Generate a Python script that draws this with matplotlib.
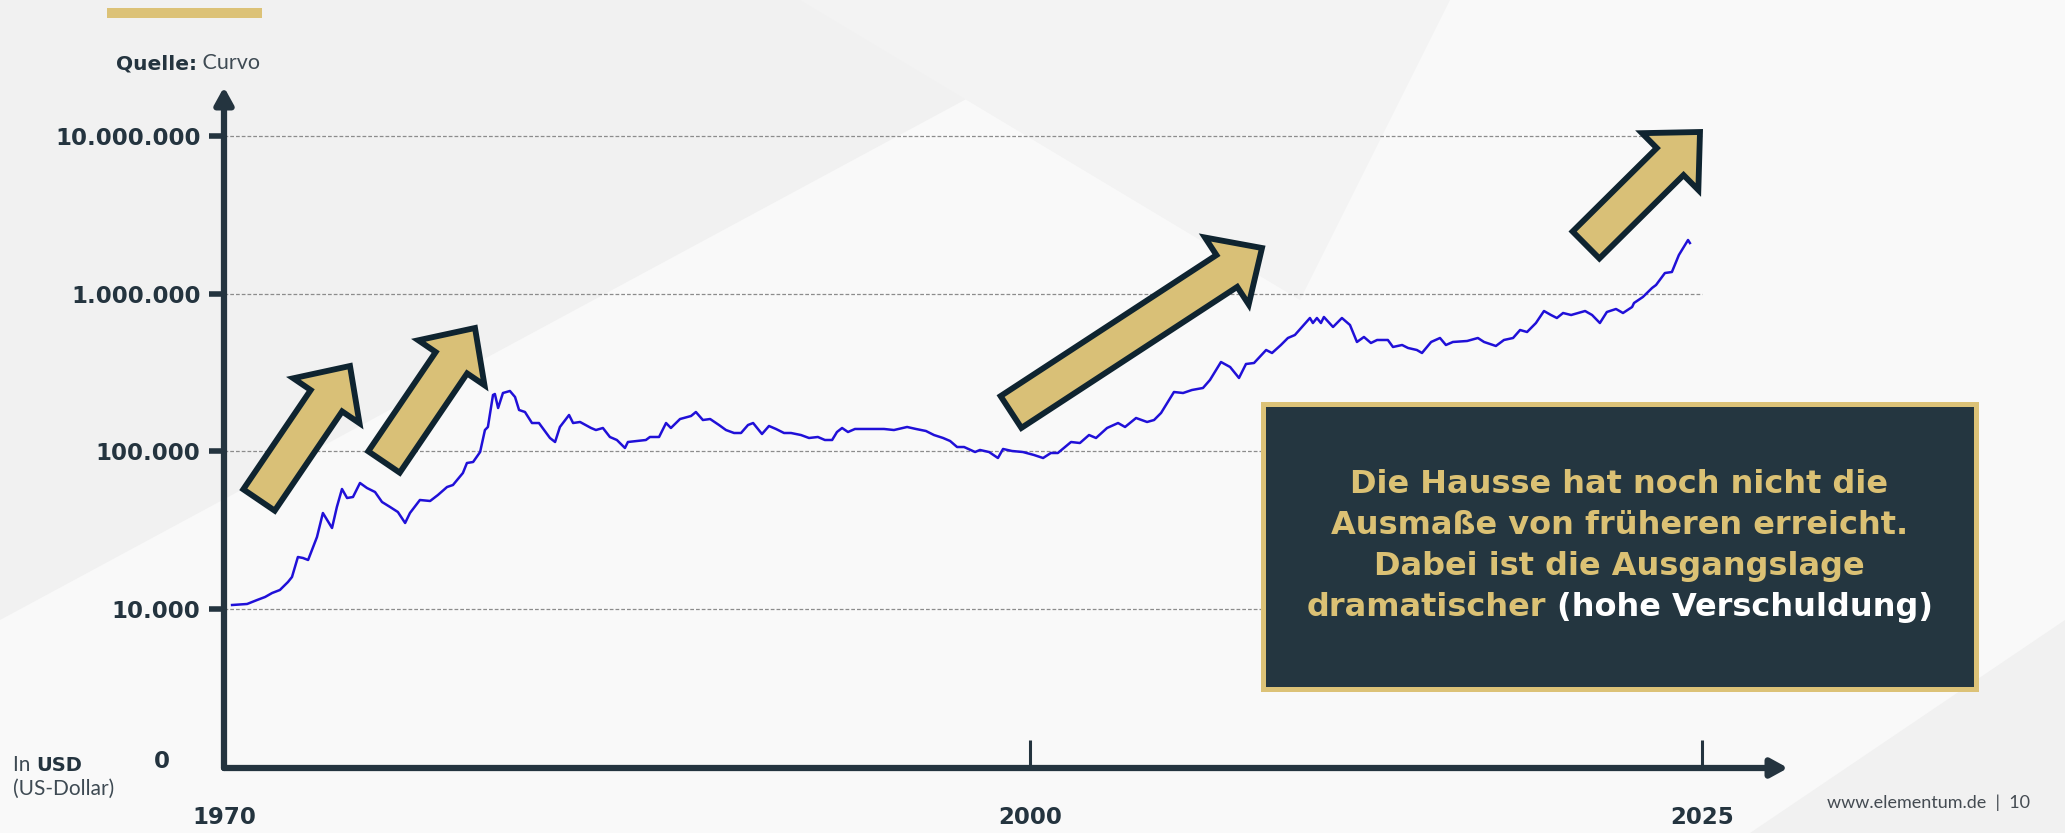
"""
Elementum slide: value of 10.000 USD since 1970 (log scale), source Curvo.
Output: out.png (2065 x 833 px)
"""

import matplotlib.pyplot as plt
from matplotlib.patches import Polygon, Rectangle
from matplotlib.ticker import NullLocator

# ── Data ──────────────────────────────────────────────────────────────────────

YEARS = [
    1970.30, 1970.86, 1971.23, 1971.53, 1971.79, 1972.08, 1972.38, 1972.53,
    1972.75, 1972.94, 1973.13, 1973.46, 1973.68, 1974.02, 1974.20, 1974.39,
    1974.58, 1974.80, 1975.06, 1975.32, 1975.62, 1975.88, 1976.18, 1976.47,
    1976.74, 1976.92, 1977.29, 1977.67, 1977.96, 1978.30, 1978.52, 1978.89,
    1979.04, 1979.27, 1979.53, 1979.71, 1979.82, 1980.01, 1980.08, 1980.20,
    1980.38, 1980.64, 1980.83, 1980.98, 1981.20, 1981.46, 1981.72, 1982.13,
    1982.32, 1982.50, 1982.84, 1982.99, 1983.25, 1983.66, 1983.84, 1984.10,
    1984.36, 1984.62, 1984.92, 1985.03, 1985.37, 1985.70, 1985.85, 1986.19,
    1986.45, 1986.63, 1986.97, 1987.38, 1987.56, 1987.82, 1988.09, 1988.42,
    1988.68, 1988.98, 1989.24, 1989.50, 1989.69, 1990.02, 1990.28, 1990.54,
    1990.84, 1991.10, 1991.47, 1991.77, 1992.10, 1992.36, 1992.63, 1992.81,
    1993.00, 1993.22, 1993.48, 1993.89, 1994.15, 1994.56, 1994.93, 1995.42,
    1995.75, 1996.12, 1996.42, 1996.76, 1997.02, 1997.28, 1997.54, 1997.95,
    1998.13, 1998.47, 1998.80, 1998.99, 1999.32, 1999.73, 2000.14, 2000.48,
    2000.77, 2001.03, 2001.52, 2001.85, 2002.19, 2002.45, 2002.86, 2003.27,
    2003.53, 2003.94, 2004.35, 2004.61, 2004.87, 2005.35, 2005.69, 2006.02,
    2006.43, 2006.69, 2007.10, 2007.44, 2007.77, 2008.03, 2008.33, 2008.78,
    2009.00, 2009.33, 2009.59, 2009.85, 2010.08, 2010.41, 2010.52, 2010.67,
    2010.82, 2010.93, 2011.27, 2011.60, 2011.90, 2012.16, 2012.42, 2012.68,
    2012.91, 2013.31, 2013.50, 2013.84, 2014.06, 2014.39, 2014.58, 2014.92,
    2015.25, 2015.47, 2015.73, 2016.26, 2016.66, 2016.89, 2017.33, 2017.63,
    2017.97, 2018.23, 2018.49, 2018.82, 2019.12, 2019.38, 2019.60, 2019.83,
    2020.13, 2020.65, 2020.91, 2021.20, 2021.46, 2021.80, 2022.06, 2022.40,
    2022.47, 2022.80, 2023.14, 2023.29, 2023.62, 2023.88, 2024.14, 2024.48,
    2024.55,
]

VALUES_USD = [
    10600, 10760, 11400, 11920, 12630, 13200, 14830, 15960,
    21370, 21060, 20460, 28620, 40630, 32640, 44360, 57690,
    50580, 51330, 62980, 58540, 55210, 47720, 44360, 41230,
    35120, 40630, 49130, 48420, 52840, 59390, 61160, 72880,
    84330, 85570, 99000, 136500, 142700, 227700, 231000, 188300,
    234400, 241400, 221100, 182900, 177600, 151200, 151200, 121500,
    114600, 142700, 170000, 151200, 153500, 140600, 136500, 140600,
    123300, 118000, 105000, 114600, 116300, 118000, 123300, 123300,
    151200, 140600, 160300, 167500, 177600, 158000, 160300, 146900,
    136500, 130700, 130700, 146900, 151200, 128800, 144800, 138600,
    130700, 130700, 126900, 121500, 123300, 118000, 118000, 132600,
    140600, 132600, 138600, 138600, 138600, 138600, 136500, 142700,
    138600, 134600, 126900, 121500, 116300, 106500, 106500, 99000,
    102000, 99000, 90700, 103500, 100500, 99000, 94800, 90700,
    97600, 97600, 114600, 112900, 126900, 121500, 140600, 151200,
    142700, 162700, 153500, 158000, 175100, 237800, 234400, 244900,
    252200, 283500, 368600, 342600, 291900, 358000, 363300, 439200,
    420400, 472500, 523400, 546800, 605600, 700800, 651300, 700800,
    651300, 711200, 614600, 700800, 632900, 493800, 531200, 486600,
    508400, 508400, 459000, 472500, 452400, 439200, 420400, 493800,
    523400, 472500, 493800, 501000, 523400, 493800, 465800, 508400,
    523400, 588100, 571300, 651300, 776200, 732200, 700800, 753900,
    732200, 776200, 732200, 651300, 765200, 799400, 753900, 823100,
    872700, 952400, 1086000, 1135000, 1352000, 1372000, 1759000, 2189000,
    2095000,
]

Y_TICKS = [1e4, 1e5, 1e6, 1e7]
Y_TICK_LABELS = ["10.000", "100.000", "1.000.000", "10.000.000"]
X_TICKS = [1970, 2000, 2025]
X_TICK_LABELS = ["1970", "2000", "2025"]

BOX_LINES = [
    "Die Hausse hat noch nicht die",
    "Ausmaße von früheren erreicht.",
    "Dabei ist die Ausgangslage",
]
BOX_LAST_GOLD = "dramatischer"
BOX_LAST_WHITE = "(hohe Verschuldung)"

# ── Config ────────────────────────────────────────────────────────────────────

W, H = 2065, 833
DARK = "#24343f"
GOLD = "#dbc174"
ARROW_GOLD = "#d9c077"
ARROW_EDGE = "#0f2430"
BOX_FILL = "#243640"
LINE_BLUE = "#2010d8"
GRID_C = "#8c8c8c"
LIGHT_TXT = "#3e4a53"

# pixel frame of the data axes (axis corner -> arrow tips)
AX_L, AX_R, AX_T, AX_B = 224, 1788, 87, 768
PX_PER_YEAR = (1702 - 224) / 55.0
PX_10K, PX_PER_DECADE = 609, 157.67

plt.rcParams.update({
    "font.family": "DejaVu Sans",
    "font.size": 14,
})

# ── Helpers ───────────────────────────────────────────────────────────────────

def block_arrow(ax, tail, tip, shaft_w, head_w, head_l):
    tx, ty = tail
    px, py = tip
    L = ((px - tx) ** 2 + (py - ty) ** 2) ** 0.5
    dx, dy = (px - tx) / L, (py - ty) / L
    nx, ny = -dy, dx
    kx, ky = px - dx * head_l, py - dy * head_l
    pts = [
        (tx + nx * shaft_w / 2, ty + ny * shaft_w / 2),
        (kx + nx * shaft_w / 2, ky + ny * shaft_w / 2),
        (kx + nx * head_w / 2, ky + ny * head_w / 2),
        (px, py),
        (kx - nx * head_w / 2, ky - ny * head_w / 2),
        (kx - nx * shaft_w / 2, ky - ny * shaft_w / 2),
        (tx - nx * shaft_w / 2, ty - ny * shaft_w / 2),
    ]
    ax.add_patch(Polygon(pts, closed=True, fc=ARROW_GOLD, ec=ARROW_EDGE,
                         lw=4.2, joinstyle="miter"))


# ── Figure ────────────────────────────────────────────────────────────────────

fig = plt.figure(figsize=(W / 100, H / 100), dpi=100, facecolor="#f9f9f9")

# faint background shading
bg = fig.add_axes([0, 0, 1, 1], zorder=0)
bg.set_xlim(0, W); bg.set_ylim(H, 0); bg.axis("off")
bg.add_patch(Polygon([(0, 0), (1150, 0), (0, 620)], fc="#f1f1f1", ec="none"))
bg.add_patch(Polygon([(800, 0), (1450, 0), (1300, 300)], fc="#f3f3f3", ec="none"))
bg.add_patch(Polygon([(1750, 833), (2065, 620), (2065, 833)], fc="#f1f1f1", ec="none"))

# data axes
ax = fig.add_axes([AX_L / W, (H - AX_B) / H, (AX_R - AX_L) / W, (AX_B - AX_T) / H],
                  zorder=1)
ax.set_facecolor("none")
ax.set_yscale("log")
ax.set_xlim(1970, 1970 + (AX_R - AX_L) / PX_PER_YEAR)
ax.set_ylim(10 ** (4 - (AX_B - PX_10K) / PX_PER_DECADE),
            10 ** (4 + (PX_10K - AX_T) / PX_PER_DECADE))
for sp in ax.spines.values():
    sp.set_visible(False)

ax.hlines(Y_TICKS, 1970, 2025, colors=GRID_C, linestyles=(0, (3, 1.6)), lw=0.9)
ax.plot(YEARS, VALUES_USD, color=LINE_BLUE, lw=1.8, zorder=3)

# axes with arrow heads
for xy in [(0, 1), (1, 0)]:
    ax.annotate("", xy=xy, xytext=(0, 0), xycoords="axes fraction",
                arrowprops=dict(arrowstyle="-|>,head_length=1.0,head_width=0.55",
                                lw=4.5, color=DARK, shrinkA=0, shrinkB=0,
                                mutation_scale=10),
                annotation_clip=False)

ax.yaxis.set_minor_locator(NullLocator())
ax.set_yticks(Y_TICKS, Y_TICK_LABELS)
ax.tick_params(axis="y", direction="out", length=11, width=4, color=DARK,
               pad=6, labelsize=16.5, labelcolor=DARK)
ax.set_xticks(X_TICKS, X_TICK_LABELS)
ax.tick_params(axis="x", direction="in", length=20, width=2.2, color=DARK,
               pad=27, labelsize=16.5, labelcolor=DARK)
for lbl in ax.get_yticklabels() + ax.get_xticklabels():
    lbl.set_fontweight("bold")

# overlay: decorations and texts in pixel coordinates
ov = fig.add_axes([0, 0, 1, 1], zorder=2)
ov.set_xlim(0, W); ov.set_ylim(H, 0); ov.axis("off")
ov.patch.set_visible(False)

ov.add_patch(Rectangle((107, 8), 155, 10, fc="#dcc277", ec="none"))
t_q = ov.text(116, 69, "Quelle:", fontsize=14.5, fontweight="bold", color=DARK,
              va="baseline")
ov.annotate(" Curvo", xy=(1, 0), xycoords=t_q, va="bottom", fontsize=15.5,
            family="Lato", color=LIGHT_TXT)

t_in = ov.text(13, 771, "In ", fontsize=15, family="Lato", color=LIGHT_TXT,
               va="baseline")
ov.annotate("USD", xy=(1, 0), xycoords=t_in, va="bottom", fontsize=14,
            fontweight="bold", color=DARK)
ov.text(13, 795, "(US-Dollar)", fontsize=15, family="Lato", color=LIGHT_TXT,
        va="baseline")
ov.text(162, 762, "0", fontsize=16.5, fontweight="bold", color=DARK,
        ha="center", va="center")

ov.text(2030, 803, "www.elementum.de  |  10", fontsize=13, family="Lato",
        color="#444b52", ha="right", va="center")

# rising arrows (tail centre, tip)
for tail, tip in [((259, 500), (350, 366)), ((384, 462), (475, 328)),
                  ((1011, 412), (1262, 248)), ((1586, 245), (1700, 132))]:
    block_arrow(ov, tail, tip, 38, 80, 42)

# message box
ov.add_patch(Rectangle((1263, 404), 713, 285, fc=BOX_FILL, ec="#dcc277", lw=3.6))
cx = (1263 + 1976) / 2
BOX_FS = 23
for txt, yb in zip(BOX_LINES, [493, 534, 575]):
    ov.text(cx, yb, txt, fontsize=BOX_FS, fontweight="bold", color=GOLD,
            ha="center", va="baseline")
t1 = ov.text(0, 616, BOX_LAST_GOLD, fontsize=BOX_FS, fontweight="bold",
             color=GOLD, va="baseline")
t2 = ov.text(0, 616, BOX_LAST_WHITE, fontsize=BOX_FS, fontweight="bold",
             color="white", va="baseline")
r = fig.canvas.get_renderer()
w1 = t1.get_window_extent(r).width
w2 = t2.get_window_extent(r).width
gap = BOX_FS * 1.389 * 0.33
x0 = cx - (w1 + gap + w2) / 2
t1.set_x(x0)
t2.set_x(x0 + w1 + gap)

fig.savefig("out.png", dpi=100, facecolor=fig.get_facecolor())
